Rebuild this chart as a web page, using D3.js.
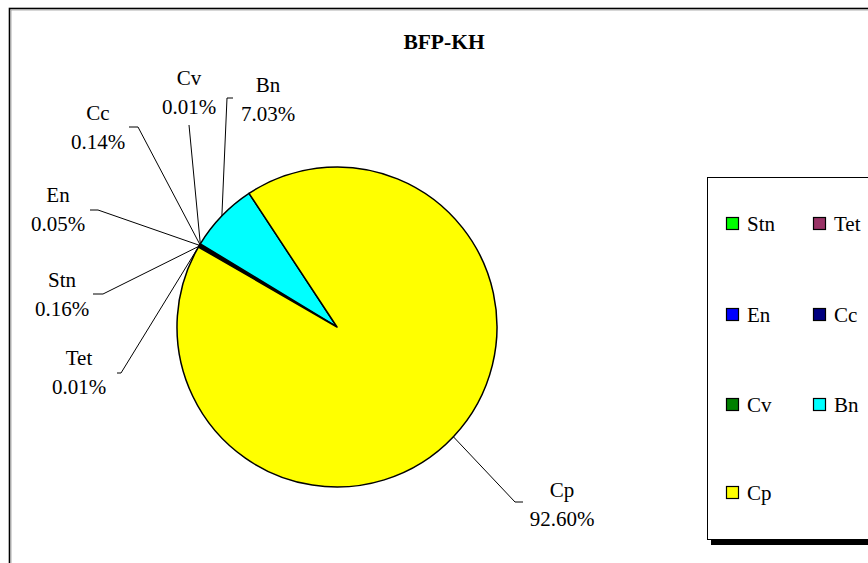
<!DOCTYPE html>
<html><head><meta charset="utf-8">
<script src="https://cdn.jsdelivr.net/npm/d3@7"></script>
<style>html,body{margin:0;padding:0;background:#fff;overflow:hidden}</style>
</head><body>
<svg id="c" width="868" height="563"></svg>
<script>
const categories = ["Stn", "Tet", "En", "Cc", "Cv", "Bn", "Cp"];
const values = [0.16, 0.01, 0.05, 0.14, 0.01, 7.03, 92.60];
const labels = ["0.16%", "0.01%", "0.05%", "0.14%", "0.01%", "7.03%", "92.60%"];
const colors = ["#00FF00", "#993366", "#0000FF", "#000080", "#008000", "#00FFFF", "#FFFF00"];
const title = "BFP-KH";

// layout (label text centres, leader elbow points)
const labelLayout = {
  Stn: {x: 62, y: 287, ex: 103, ey: 294, tx: 93},
  Tet: {x: 79, y: 365, ex: 121, ey: 373, tx: 117},
  En:  {x: 58, y: 202, ex: 98,  ey: 210, tx: 90},
  Cc:  {x: 98, y: 120, ex: 138, ey: 127, tx: 129},
  Cv:  {x: 189, y: 85, ex: 189, ey: 125, tx: 189},
  Bn:  {x: 268, y: 92, ex: 227, ey: 98,  tx: 233},
  Cp:  {x: 562, y: 497, ex: 515, ey: 502, tx: 523}
};

const svg = d3.select("#c");
const font = "'Liberation Serif','Times New Roman',serif";

// outer chart border
svg.append("rect").attr("x", 9.5).attr("y", 8.5).attr("width", 900).attr("height", 600)
  .attr("fill", "#fff").attr("stroke", "#000").attr("stroke-width", 1.6);
svg.append("line").attr("x1", 11).attr("x2", 11).attr("y1", 10).attr("y2", 563)
  .attr("stroke", "#999").attr("stroke-width", 0.8);
svg.append("line").attr("x1", 11).attr("x2", 868).attr("y1", 10).attr("y2", 10)
  .attr("stroke", "#999").attr("stroke-width", 0.8);

svg.append("text").attr("x", 444).attr("y", 49).attr("text-anchor", "middle")
  .attr("font-family", font).attr("font-weight", "bold").attr("font-size", 21.5)
  .text(title);

const cx = 337, cy = 327, r = 160;
const start = 300 * Math.PI / 180;
const pie = d3.pie().sort(null).value(d => d).startAngle(start).endAngle(start + 2 * Math.PI);
const arcs = pie(values);
const arc = d3.arc().innerRadius(0).outerRadius(r);
const edge = d3.arc().innerRadius(r).outerRadius(r);

const g = svg.append("g").attr("transform", `translate(${cx},${cy})`);
g.selectAll("path").data(arcs).join("path")
  .attr("d", arc)
  .attr("fill", (d, i) => colors[i])
  .attr("stroke", "#000").attr("stroke-width", 1.5).attr("stroke-linejoin", "round");

// leader lines
arcs.forEach((d, i) => {
  const L = labelLayout[categories[i]];
  const p = edge.centroid(d);
  const px = cx + p[0], py = cy + p[1];
  svg.append("polyline")
    .attr("points", `${L.tx},${L.ey} ${L.ex},${L.ey} ${px},${py}`)
    .attr("fill", "none").attr("stroke", "#000").attr("stroke-width", 1);
});

// labels
arcs.forEach((d, i) => {
  const L = labelLayout[categories[i]];
  const t = svg.append("text").attr("text-anchor", "middle")
    .attr("font-family", font).attr("font-size", 21).attr("fill", "#000");
  t.append("tspan").attr("x", L.x).attr("y", L.y).text(categories[i]);
  t.append("tspan").attr("x", L.x).attr("y", L.y + 29).text(labels[i]);
});

// legend
svg.append("rect").attr("x", 711).attr("y", 181).attr("width", 300).attr("height", 364).attr("fill", "#000");
svg.append("rect").attr("x", 707.5).attr("y", 177.5).attr("width", 300).attr("height", 362)
  .attr("fill", "#fff").attr("stroke", "#000").attr("stroke-width", 1);
const legX = [726, 813], legY = [223, 314, 404, 492];
categories.forEach((c, i) => {
  const col = i % 2, row = Math.floor(i / 2);
  const x = legX[col], y = legY[row];
  svg.append("rect").attr("x", x + 0.5).attr("y", y - 5.5).attr("width", 12).attr("height", 12)
    .attr("fill", colors[i]).attr("stroke", "#000").attr("stroke-width", 1.2);
  svg.append("text").attr("x", x + 21).attr("y", y + 8).attr("font-family", font)
    .attr("font-size", 21).text(c);
});
</script>
</body></html>
